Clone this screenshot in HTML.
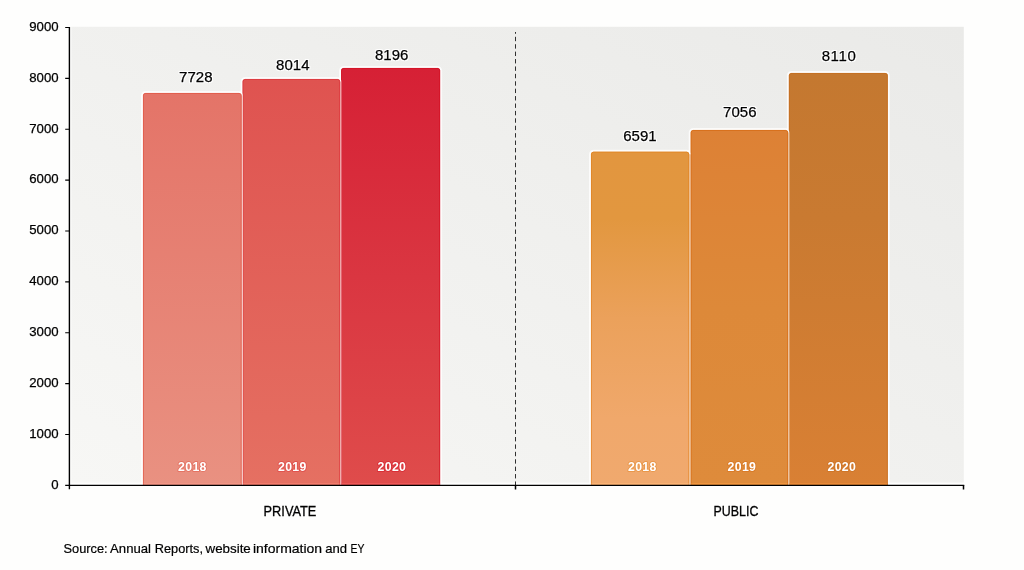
<!DOCTYPE html>
<html lang="en">
<head>
<meta charset="utf-8">
<title>Private vs Public 2018-2020</title>
<style>
html,body{margin:0;padding:0;background:#fefefd;}
body{width:1024px;height:570px;overflow:hidden;position:relative;font-family:"Liberation Sans",sans-serif;}
svg{position:absolute;left:0;top:0;display:block;font-family:"Liberation Sans",sans-serif;}
.ax{font-size:13.2px;fill:#000;text-anchor:end;stroke:#000;stroke-width:0.25px;}
.val{font-size:15px;fill:#000;text-anchor:middle;stroke:#000;stroke-width:0.25px;}
.yr{font-size:12.3px;letter-spacing:0.3px;font-weight:bold;fill:#fff;text-anchor:middle;paint-order:stroke;stroke-width:1.8px;stroke-opacity:0.45;stroke-linejoin:round;}
.cat{font-size:14px;fill:#000;stroke:#000;stroke-width:0.3px;}
.src{font-size:13px;fill:#000;stroke:#000;stroke-width:0.2px;}
</style>
</head>
<body>
<svg width="1024" height="570" viewBox="0 0 1024 570">
<defs>
<linearGradient id="bg" x1="0" y1="1" x2="1" y2="0">
<stop offset="0" stop-color="#f7f7f5"/><stop offset="1" stop-color="#eaeae8"/>
</linearGradient>
<linearGradient id="b3" gradientUnits="userSpaceOnUse" x1="0" y1="68.0" x2="0" y2="485.4"><stop offset="0" stop-color="#d62035"/><stop offset="0.5" stop-color="#da3641"/><stop offset="1" stop-color="#df4c4b"/></linearGradient>
<linearGradient id="b2" gradientUnits="userSpaceOnUse" x1="0" y1="79.0" x2="0" y2="485.4"><stop offset="0" stop-color="#df5350"/><stop offset="1" stop-color="#e57062"/></linearGradient>
<linearGradient id="b1" gradientUnits="userSpaceOnUse" x1="0" y1="93.0" x2="0" y2="485.4"><stop offset="0" stop-color="#e47468"/><stop offset="1" stop-color="#e99181"/></linearGradient>
<linearGradient id="b6" gradientUnits="userSpaceOnUse" x1="0" y1="73.0" x2="0" y2="485.4"><stop offset="0" stop-color="#c47830"/><stop offset="0.35" stop-color="#c97a31"/><stop offset="1" stop-color="#d98034"/></linearGradient>
<linearGradient id="b5" gradientUnits="userSpaceOnUse" x1="0" y1="130.0" x2="0" y2="485.4"><stop offset="0" stop-color="#dd8135"/><stop offset="0.5" stop-color="#dd8939"/><stop offset="1" stop-color="#de8b3b"/></linearGradient>
<linearGradient id="b4" gradientUnits="userSpaceOnUse" x1="0" y1="151.7" x2="0" y2="485.4"><stop offset="0" stop-color="#e2963f"/><stop offset="0.2" stop-color="#e2973f"/><stop offset="0.5" stop-color="#eba15b"/><stop offset="0.8" stop-color="#f0a86b"/><stop offset="1" stop-color="#f0a96e"/></linearGradient>
<filter id="halo" filterUnits="userSpaceOnUse" x="150" y="30" width="740" height="130" color-interpolation-filters="sRGB">
<feMorphology in="SourceAlpha" operator="dilate" radius="1.3" result="d"/>
<feGaussianBlur in="d" stdDeviation="0.45" result="b"/>
<feFlood flood-color="#ffffff" result="w"/>
<feComposite in="w" in2="b" operator="in" result="h"/>
<feMerge><feMergeNode in="h"/><feMergeNode in="SourceGraphic"/></feMerge>
</filter>
</defs>
<rect x="71.400" y="26.800" width="892.400" height="455.800" fill="url(#bg)"/>
<line x1="515.500" y1="32" x2="515.500" y2="485" stroke="#303030" stroke-width="1" stroke-dasharray="4.4 3.011" stroke-dashoffset="2.61"/>
<g>
<path d="M143.00 485.4V95.60a2.60 2.60 0 0 1 2.60-2.60H239.00a2.60 2.60 0 0 1 2.60 2.60V485.4z" fill="none" stroke="#ffffff" stroke-opacity="0.7" stroke-width="4"/>
<path d="M242.60 485.4V81.60a2.60 2.60 0 0 1 2.60-2.60H337.50a2.60 2.60 0 0 1 2.60 2.60V485.4z" fill="none" stroke="#ffffff" stroke-opacity="0.7" stroke-width="4"/>
<path d="M341.10 485.4V70.60a2.60 2.60 0 0 1 2.60-2.60H437.50a2.60 2.60 0 0 1 2.60 2.60V485.4z" fill="none" stroke="#ffffff" stroke-opacity="0.7" stroke-width="4"/>
<path d="M591.00 485.4V154.30a2.60 2.60 0 0 1 2.60-2.60H686.60a2.60 2.60 0 0 1 2.60 2.60V485.4z" fill="none" stroke="#ffffff" stroke-opacity="0.7" stroke-width="4"/>
<path d="M690.70 485.4V132.60a2.60 2.60 0 0 1 2.60-2.60H785.50a2.60 2.60 0 0 1 2.60 2.60V485.4z" fill="none" stroke="#ffffff" stroke-opacity="0.7" stroke-width="4"/>
<path d="M788.90 485.4V75.60a2.60 2.60 0 0 1 2.60-2.60H885.20a2.60 2.60 0 0 1 2.60 2.60V485.4z" fill="none" stroke="#ffffff" stroke-opacity="0.7" stroke-width="4"/>
<path d="M341.10 485.4V70.60a2.60 2.60 0 0 1 2.60-2.60H437.50a2.60 2.60 0 0 1 2.60 2.60V485.4z" fill="none" stroke="#ffffff" stroke-opacity="0.7" stroke-width="2.7"/>
<path d="M341.10 485.4V70.60a2.60 2.60 0 0 1 2.60-2.60H437.50a2.60 2.60 0 0 1 2.60 2.60V485.4z" fill="url(#b3)"/>
<rect x="339.80" y="81.60" width="1.60" height="403.80" fill="url(#b3)"/>
<path d="M341.50 485.4V70.60a2.20 2.20 0 0 1 2.20-2.20H437.50a2.20 2.20 0 0 1 2.20 2.20V485.4z" fill="none" stroke="#d30d1f" stroke-opacity="0.85" stroke-width="0.8"/>
<path d="M242.60 485.4V81.60a2.60 2.60 0 0 1 2.60-2.60H337.50a2.60 2.60 0 0 1 2.60 2.60V485.4z" fill="none" stroke="#ffffff" stroke-opacity="0.7" stroke-width="2.7"/>
<path d="M242.60 485.4V81.60a2.60 2.60 0 0 1 2.60-2.60H337.50a2.60 2.60 0 0 1 2.60 2.60V485.4z" fill="url(#b2)"/>
<rect x="241.30" y="95.60" width="1.60" height="389.80" fill="url(#b2)"/>
<path d="M243.00 485.4V81.60a2.20 2.20 0 0 1 2.20-2.20H337.50a2.20 2.20 0 0 1 2.20 2.20V485.4z" fill="none" stroke="#dc3038" stroke-opacity="0.85" stroke-width="0.8"/>
<path d="M143.00 485.4V95.60a2.60 2.60 0 0 1 2.60-2.60H239.00a2.60 2.60 0 0 1 2.60 2.60V485.4z" fill="none" stroke="#ffffff" stroke-opacity="0.7" stroke-width="2.7"/>
<path d="M143.00 485.4V95.60a2.60 2.60 0 0 1 2.60-2.60H239.00a2.60 2.60 0 0 1 2.60 2.60V485.4z" fill="url(#b1)"/>
<path d="M143.40 485.4V95.60a2.20 2.20 0 0 1 2.20-2.20H239.00a2.20 2.20 0 0 1 2.20 2.20V485.4z" fill="none" stroke="#e0503f" stroke-opacity="0.85" stroke-width="0.8"/>
<path d="M788.90 485.4V75.60a2.60 2.60 0 0 1 2.60-2.60H885.20a2.60 2.60 0 0 1 2.60 2.60V485.4z" fill="none" stroke="#ffffff" stroke-opacity="0.7" stroke-width="2.7"/>
<path d="M788.90 485.4V75.60a2.60 2.60 0 0 1 2.60-2.60H885.20a2.60 2.60 0 0 1 2.60 2.60V485.4z" fill="url(#b6)"/>
<rect x="787.80" y="132.60" width="1.40" height="352.80" fill="url(#b6)"/>
<path d="M789.30 485.4V75.60a2.20 2.20 0 0 1 2.20-2.20H885.20a2.20 2.20 0 0 1 2.20 2.20V485.4z" fill="none" stroke="#c56b1b" stroke-opacity="0.85" stroke-width="0.8"/>
<path d="M690.70 485.4V132.60a2.60 2.60 0 0 1 2.60-2.60H785.50a2.60 2.60 0 0 1 2.60 2.60V485.4z" fill="none" stroke="#ffffff" stroke-opacity="0.7" stroke-width="2.7"/>
<path d="M690.70 485.4V132.60a2.60 2.60 0 0 1 2.60-2.60H785.50a2.60 2.60 0 0 1 2.60 2.60V485.4z" fill="url(#b5)"/>
<rect x="688.90" y="154.30" width="2.10" height="331.10" fill="url(#b5)"/>
<path d="M691.10 485.4V132.60a2.20 2.20 0 0 1 2.20-2.20H785.50a2.20 2.20 0 0 1 2.20 2.20V485.4z" fill="none" stroke="#d5680f" stroke-opacity="0.85" stroke-width="0.8"/>
<path d="M591.00 485.4V154.30a2.60 2.60 0 0 1 2.60-2.60H686.60a2.60 2.60 0 0 1 2.60 2.60V485.4z" fill="none" stroke="#ffffff" stroke-opacity="0.7" stroke-width="2.7"/>
<path d="M591.00 485.4V154.30a2.60 2.60 0 0 1 2.60-2.60H686.60a2.60 2.60 0 0 1 2.60 2.60V485.4z" fill="url(#b4)"/>
<path d="M591.40 485.4V154.30a2.20 2.20 0 0 1 2.20-2.20H686.60a2.20 2.20 0 0 1 2.20 2.20V485.4z" fill="none" stroke="#e0801c" stroke-opacity="0.85" stroke-width="0.8"/>
<rect x="143.60" y="483.1" width="97.40" height="1.8" fill="#f89888" fill-opacity="0.8"/>
<rect x="243.20" y="483.1" width="96.30" height="1.8" fill="#f88070" fill-opacity="0.8"/>
<rect x="341.70" y="483.1" width="97.80" height="1.8" fill="#f45c5c" fill-opacity="0.8"/>
<rect x="591.60" y="483.1" width="97.00" height="1.8" fill="#ffb878" fill-opacity="0.8"/>
<rect x="691.30" y="483.1" width="96.20" height="1.8" fill="#f89a40" fill-opacity="0.8"/>
<rect x="789.50" y="483.1" width="97.70" height="1.8" fill="#ee8c3a" fill-opacity="0.8"/>
</g>
<g stroke="#000" fill="none">
<path d="M69.400 27V489.300" stroke-width="1.4"/>
<path d="M65.200 485.400H964.200" stroke-width="1.15"/>
<path d="M515.500 485V489.400M963.500 485V489.400" stroke-width="1.5"/>
<path d="M65.200 27.50H69.400M65.200 78.38H69.400M65.200 129.26H69.400M65.200 180.13H69.400M65.200 231.01H69.400M65.200 281.89H69.400M65.200 332.77H69.400M65.200 383.64H69.400M65.200 434.52H69.400" stroke-width="1.2"/>
</g>
<g class="ax"><text x="58.600" y="30.80">9000</text><text x="58.600" y="81.68">8000</text><text x="58.600" y="132.56">7000</text><text x="58.600" y="183.43">6000</text><text x="58.600" y="234.31">5000</text><text x="58.600" y="285.19">4000</text><text x="58.600" y="336.07">3000</text><text x="58.600" y="386.94">2000</text><text x="58.600" y="437.82">1000</text><text x="58.600" y="488.70">0</text></g>
<g class="val" filter="url(#halo)"><text x="195.8" y="81.8">7728</text><text x="292.8" y="70.1">8014</text><text x="391.7" y="59.7">8196</text><text x="639.9" y="141.2">6591</text><text x="739.8" y="116.5">7056</text><text x="839.0" y="61.3" letter-spacing="0.6">8110</text></g>
<g class="yr"><text x="192.4" y="471" stroke="#e0503f">2018</text><text x="292.3" y="471" stroke="#dc3038">2019</text><text x="391.9" y="471" stroke="#d30d1f">2020</text><text x="642.3" y="471" stroke="#e0801c">2018</text><text x="741.9" y="471" stroke="#d5680f">2019</text><text x="841.8" y="471" stroke="#c56b1b">2020</text></g>
<text class="cat" x="263.600" y="516" textLength="52.800" lengthAdjust="spacingAndGlyphs">PRIVATE</text>
<text class="cat" x="713.600" y="516" textLength="44.800" lengthAdjust="spacingAndGlyphs">PUBLIC</text>
<text class="src" y="552.700"><tspan x="63.51" textLength="44.15" lengthAdjust="spacingAndGlyphs">Source:</tspan> <tspan x="110.08" textLength="40.92" lengthAdjust="spacingAndGlyphs">Annual</tspan> <tspan x="154.78" textLength="48.20" lengthAdjust="spacingAndGlyphs">Reports,</tspan> <tspan x="205.56" textLength="45.23" lengthAdjust="spacingAndGlyphs">website</tspan> <tspan x="252.94" textLength="69.19" lengthAdjust="spacingAndGlyphs">information</tspan> <tspan x="325.16" textLength="21.84" lengthAdjust="spacingAndGlyphs">and</tspan> <tspan x="350.50" textLength="13.92" lengthAdjust="spacingAndGlyphs">EY</tspan></text>
</svg>
</body>
</html>
